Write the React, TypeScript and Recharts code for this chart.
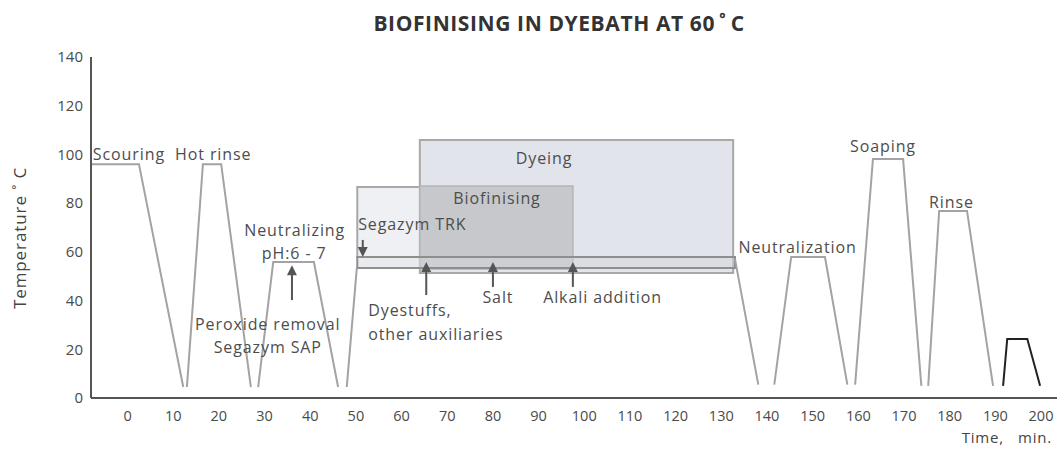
import React from 'react';
import {
  ComposedChart,
  Line,
  XAxis,
  YAxis,
  ReferenceArea,
  ReferenceDot,
  ReferenceLine,
} from 'recharts';

// temperature profile, one list of [time, temp] per bath
const scouring = [[-8, 96], [2.5, 96], [12.2, 4.5]];
const hotRinse = [[13.0, 4.5], [16.5, 96], [20.5, 96], [27.0, 4.5]];
const neutralizing = [[28.6, 4.5], [31.9, 55.8], [40.8, 55.8], [46.1, 4.5]];
const dyebathFill = [[48.0, 4.5], [50.2, 53.4]];
const dyebathDrain = [[133.0, 57], [138.1, 5.5]];
const neutralization = [[141.6, 5.5], [145.3, 57.9], [152.7, 57.9], [157.6, 5.5]];
const soaping = [[159.3, 5.5], [163.2, 98.1], [169.8, 98.1], [173.8, 5]];
const rinse = [[175.3, 5], [177.7, 76.8], [183.8, 76.8], [189.5, 5]];
const lastStep = [[191.7, 5], [192.6, 24.2], [197.0, 24.2], [199.8, 5]];

const timeTicks = [0, 10, 20, 30, 40, 50, 60, 70, 80, 90, 100, 110, 120, 130, 140, 150, 160, 170, 180, 190, 200];
const tempTicks = [0, 20, 40, 60, 80, 100, 120, 140];

// phase boxes: [x1, x2, y1, y2]
const dyeingBox = [64.0, 132.6, 51.3, 105.9];
const segazymBox = [50.3, 64.0, 57.9, 86.6];
const biofinisingBox = [64.0, 97.5, 53.0, 87.0];
const bathBand = [50.3, 133.0, 53.4, 57.9];

// arrows: [time, from, to]
const arrows = [
  [36.0, 40.2, 54.5],
  [51.5, 64.9, 57.9],
  [65.4, 42.3, 55.8],
  [80.0, 45.6, 55.8],
  [97.5, 45.6, 55.8],
];

// notes: [text, time, temp, anchor]
const notes: [string, number, number, string][] = [
  ['Scouring', -7.6, 100.2, 'start'],
  ['Hot rinse', 10.4, 100.2, 'start'],
  ['Neutralizing', 36.6, 68.9, 'middle'],
  ['pH:6 - 7', 36.5, 59.4, 'middle'],
  ['Peroxide removal', 30.7, 30.4, 'middle'],
  ['Segazym SAP', 30.7, 21.1, 'middle'],
  ['Segazym TRK', 50.5, 71.4, 'start'],
  ['Biofinising', 80.9, 82.1, 'middle'],
  ['Dyeing', 91.2, 98.5, 'middle'],
  ['Salt', 81.1, 41.5, 'middle'],
  ['Alkali addition', 91.0, 41.5, 'start'],
  ['Dyestuffs,', 52.7, 36.2, 'start'],
  ['other auxiliaries', 52.7, 26.3, 'start'],
  ['Neutralization', 146.7, 62.0, 'middle'],
  ['Soaping', 165.4, 103.4, 'middle'],
  ['Rinse', 180.4, 80.5, 'middle'],
];

const grayRuns = [scouring, hotRinse, neutralizing, dyebathFill, dyebathDrain, neutralization, soaping, rinse];

const data: { time: number; temp: number | null; last: number | null }[] = [];
grayRuns.forEach((run, i) => {
  run.forEach(([time, temp]) => data.push({ time, temp, last: null }));
  const next = grayRuns[i + 1] || lastStep;
  const gap = (run[run.length - 1][0] + next[0][0]) / 2;
  data.push({ time: gap, temp: null, last: null });
});
lastStep.forEach(([time, temp]) => data.push({ time, temp: null, last: temp }));

const FONT = '"Open Sans", sans-serif';
const INK = '#4d4d4d';

const arrowShape = (props: any) => {
  const { x1, y1, x2, y2 } = props;
  const dir = y2 > y1 ? 1 : -1;
  return (
    <g>
      <line x1={x1} y1={y1} x2={x2} y2={y2 - dir * 4} stroke="#555" strokeWidth={2} />
      <polygon
        points={`${x2},${y2} ${x2 - 5},${y2 - dir * 10} ${x2 + 5},${y2 - dir * 10}`}
        fill="#555"
      />
    </g>
  );
};

const noteShape = (text: string, anchor: string) => (props: any) => (
  <text
    x={props.cx}
    y={props.cy}
    textAnchor={anchor}
    dominantBaseline="central"
    fontFamily={FONT}
    fontSize={16}
    letterSpacing={0.9}
    fill={INK}
  >
    {text}
  </text>
);

export default function App() {
  return (
    <div style={{ position: 'absolute', left: 0, top: 0, width: 1058, height: 454, background: '#fff' }}>
      <div
        style={{
          position: 'absolute',
          left: 559,
          top: 9,
          transform: 'translateX(-50%)',
          fontFamily: FONT,
          fontWeight: 700,
          fontSize: 21,
          letterSpacing: 0.6,
          color: '#333',
          whiteSpace: 'nowrap',
          lineHeight: '28px',
        }}
      >
        BIOFINISING IN DYEBATH AT 60{'\u2009'}˚{'\u2009'}C
      </div>
      <ComposedChart width={1058} height={454} data={data} margin={{ top: 57, right: 1, left: 31, bottom: 26 }}>
        <XAxis
          dataKey="time"
          type="number"
          domain={[-8, 203.5]}
          ticks={timeTicks}
          interval={0}
          height={30}
          tickLine={false}
          tickMargin={7}
          axisLine={{ stroke: '#555', strokeWidth: 2 }}
          tick={{ fontSize: 14.5, fill: '#4a4a4a', fontFamily: FONT }}
          label={{
            content: ({ viewBox }: any) => (
              <text
                x={viewBox.x + viewBox.width - 5}
                y={viewBox.y + 39}
                textAnchor="end"
                dominantBaseline="central"
                fontFamily={FONT}
                fontSize={15}
                letterSpacing={0.8}
                fill="#444"
              >
                Time,{'\u00a0\u00a0\u00a0'}min.
              </text>
            ),
          }}
        />
        <YAxis
          type="number"
          domain={[0, 140]}
          ticks={tempTicks}
          width={60}
          tickLine={false}
          axisLine={{ stroke: '#555', strokeWidth: 2 }}
          tick={{ fontSize: 15, fill: '#4a4a4a', fontFamily: FONT }}
          label={{
            content: () => (
              <text
                x={19}
                y={238}
                transform="rotate(-90 19 238)"
                textAnchor="middle"
                dominantBaseline="central"
                fontFamily={FONT}
                fontSize={17}
                letterSpacing={0.9}
                fill="#444"
              >
                Temperature ˚ C
              </text>
            ),
          }}
        />
        <ReferenceArea x1={dyeingBox[0]} x2={dyeingBox[1]} y1={dyeingBox[2]} y2={dyeingBox[3]} fill="#e2e4eb" fillOpacity={1} stroke="#a8a8a8" strokeWidth={2} />
        <ReferenceArea x1={segazymBox[0]} x2={segazymBox[1]} y1={segazymBox[2]} y2={segazymBox[3]} fill="#eff0f4" fillOpacity={1} stroke="#a8a8a8" strokeWidth={2} />
        <ReferenceArea x1={biofinisingBox[0]} x2={biofinisingBox[1]} y1={biofinisingBox[2]} y2={biofinisingBox[3]} fill="#c6c8cc" fillOpacity={1} stroke="#b4b4b4" strokeWidth={1.5} />
        <ReferenceArea x1={bathBand[0]} x2={bathBand[1]} y1={bathBand[2]} y2={bathBand[3]} fill="#d4d6db" fillOpacity={0.5} stroke="#8e8e8e" strokeWidth={2} />
        <Line dataKey="temp" type="linear" stroke="#a3a3a3" strokeWidth={2} dot={false} connectNulls={false} isAnimationActive={false} />
        <Line dataKey="last" type="linear" stroke="#222" strokeWidth={2} dot={false} connectNulls={false} isAnimationActive={false} />
        {arrows.map(([t, from, to], i) => (
          <ReferenceLine
            key={'a' + i}
            segment={[{ x: t, y: from }, { x: t, y: to }]}
            stroke="#555"
            shape={arrowShape}
          />
        ))}
        {notes.map(([text, t, temp, anchor]) => (
          <ReferenceDot key={text} x={t} y={temp} r={0} shape={noteShape(text, anchor)} />
        ))}
      </ComposedChart>
    </div>
  );
}
